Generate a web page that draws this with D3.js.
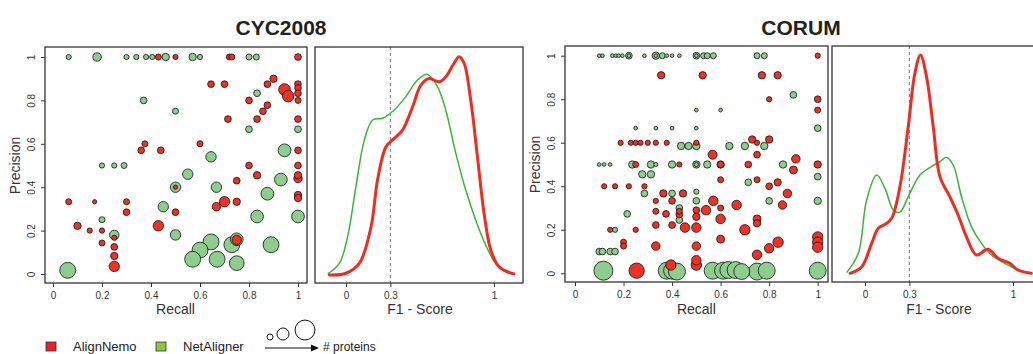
<!DOCTYPE html>
<html>
<head>
<meta charset="utf-8">
<script src="https://cdnjs.cloudflare.com/ajax/libs/d3/7.8.5/d3.min.js"></script>
<style>
  body { margin: 0; background: #fff; }
  svg { font-family: "Liberation Sans", Arial, Helvetica, sans-serif; }
  .tick text { font-size: 10px; fill: #333; }
  .tick line { stroke: #333; }
</style>
</head>
<body>
<script>
// ---- data: [recall, precision, # proteins] ----
var cycNemo = [
  [0.43,1,4],[0.50,1,3],[0.72,1,4],[0.73,1,4],[1,1,5],
  [0.645,0.875,5],[0.70,0.875,5],[0.875,0.875,5],[0.9,0.9,6],[1,0.875,5],
  [0.945,0.85,15],[1,0.857,5],[0.96,0.82,15],[1,0.833,5],
  [0.8,0.8,5],[1,0.8,4],[0.875,0.778,5],[0.857,0.75,5],
  [0.714,0.714,5],[0.833,0.714,5],[1,0.714,5],
  [0.375,0.6,4],[0.6,0.6,4],[0.36,0.57,5],[0.44,0.57,5],[1,0.57,5],
  [0.8,0.5,5],[1,0.5,5],[0.833,0.455,6],[1,0.455,6],[1,0.44,8],
  [0.75,0.43,5],[0.5,0.4,2],[1,0.364,6],[1,0.35,6],
  [0.064,0.333,4],[0.17,0.333,2],[0.3,0.333,4],[0.70,0.333,12],[0.75,0.333,6],
  [0.667,0.31,8],[0.3,0.285,5],[0.5,0.285,5],
  [0.1,0.222,6],[0.43,0.222,12],[0.15,0.2,3],[0.2,0.2,3],
  [0.25,0.167,3],[0.2,0.143,4],[0.75,0.157,10],[0.25,0.125,5],[0.25,0.083,6],[0.25,0.035,12]
];
var cycNet = [
  [0.064,1,3],[0.18,1,8],[0.30,1,3],[0.34,1,3],[0.38,1,3],[0.405,1,3],[0.46,1,6],[0.57,1,6],[0.6,1,3],[0.8,1,4],[0.83,1,4],
  [0.833,0.833,5],[0.37,0.8,5],[0.5,0.75,4],[0.8,0.667,5],[1,0.667,5],
  [0.945,0.57,18],[0.645,0.54,12],[0.2,0.5,3],[0.25,0.5,3],[0.29,0.5,4],
  [0.55,0.46,12],[0.93,0.435,18],[0.5,0.4,12],[0.667,0.4,12],[0.875,0.37,18],
  [0.45,0.31,12],[0.833,0.265,18],[1,0.265,18],[0.2,0.25,4],[0.25,0.18,10],[0.5,0.18,12],
  [0.75,0.16,18],[0.645,0.148,28],[0.73,0.135,28],[0.89,0.135,28],[0.6,0.11,28],
  [0.57,0.068,28],[0.67,0.068,28],[0.75,0.05,24],[0.06,0.017,28]
];
var corumNemo = [
  [1,1,3],
  [0.355,0.91,6],[0.526,0.91,6],[0.77,0.91,6],[0.835,0.91,6],
  [0.8,0.8,3],[1,0.8,5],[1,0.75,4],
  [0.188,0.6,3],[0.23,0.6,3],[0.25,0.6,3],[0.27,0.6,3],[0.3,0.6,3],[0.333,0.6,3],[0.378,0.6,3],[0.5,0.6,3],
  [0.75,0.6,3],[0.8,0.615,6],[0.73,0.615,6],
  [0.567,0.545,9],[0.75,0.545,5],
  [0.25,0.5,4],[0.43,0.5,3],[0.6,0.5,5],[0.714,0.5,5],[0.91,0.526,8],[0.9,0.475,7],[1,0.5,6],
  [0.6,0.43,4],[0.75,0.43,4],[0.835,0.418,6],
  [0.12,0.4,3],[0.165,0.4,3],[0.222,0.4,3],[0.286,0.4,3],[0.8,0.4,5],
  [0.364,0.367,6],[0.445,0.367,6],[0.875,0.367,8],
  [0.333,0.333,3],[0.4,0.333,5],[0.57,0.333,10],
  [0.666,0.314,10],[0.855,0.314,8],
  [0.6,0.3,4],[0.54,0.29,10],[0.5,0.29,5],[0.333,0.285,4],[0.43,0.285,4],
  [0.375,0.273,5],[0.43,0.27,5],[0.5,0.26,6],
  [0.6,0.25,10],[0.75,0.25,7],[0.4,0.222,5],[0.333,0.222,5],[0.75,0.23,6],
  [0.453,0.21,10],[0.5,0.21,10],
  [0.145,0.2,3],[0.25,0.2,3],[0.70,0.2,12],
  [0.6,0.157,7],[0.2,0.143,4],[0.837,0.143,12],
  [0.2,0.125,4],[0.333,0.125,8],[0.5,0.125,8],[0.8,0.115,10],[1,0.167,12],[1,0.143,12],[1,0.12,12],
  [0.75,0.085,10],[0.5,0.06,10],[0.395,0.038,12],[0.5,0.038,12],[0.254,0.012,26]
];
var corumNet = [
  [0.1,1,1.5],[0.113,1,1.5],[0.154,1,1.5],[0.168,1,1.5],[0.18,1,1.5],[0.195,1,1.5],[0.222,1,5],[0.222,1,1.5],
  [0.286,1,1.5],[0.333,1,6],[0.333,1,1.5],[0.36,1,4],[0.378,1,1.5],[0.4,1,1.5],[0.43,1,1.5],[0.5,1,5],[0.5,1,1.5],
  [0.53,1,4],[0.545,1,4],[0.57,1,4],[0.75,1,4],[0.78,1,4],
  [0.9,0.82,5],[0.5,0.75,1.5],[0.6,0.75,1.5],
  [0.25,0.667,1.5],[0.333,0.667,1.5],[0.4,0.667,1.5],[0.5,0.667,1.5],[1,0.667,5],
  [0.437,0.585,6],[0.468,0.585,6],[0.5,0.585,6],[0.636,0.585,6],[0.7,0.585,6],[0.78,0.585,6],
  [0.1,0.5,1.5],[0.12,0.5,1.5],[0.145,0.5,1.5],[0.236,0.5,6],[0.313,0.5,6],[0.333,0.5,2],[0.4,0.5,6],
  [0.5,0.5,6],[0.5,0.5,2],[0.545,0.5,6],[0.6,0.5,6],[0.857,0.5,6],
  [0.277,0.455,6],[0.313,0.455,6],[1,0.444,5],[0.714,0.418,5],
  [0.286,0.367,5],[0.4,0.367,5],[0.5,0.375,3],
  [0.5,0.333,5],[0.8,0.333,5],[1,0.333,6],
  [0.43,0.3,5],[0.215,0.273,5],[0.43,0.245,5],[0.165,0.2,3],
  [0.1,0.1,5],[0.113,0.1,5],[0.145,0.1,5],[0.165,0.1,5],
  [0.117,0.012,40],[0.378,0.012,32],[0.4,0.012,32],[0.42,0.008,32],[0.567,0.012,32],[0.61,0.012,32],
  [0.632,0.015,32],[0.662,0.015,32],[0.687,0.008,28],[0.75,0.008,32],[0.79,0.012,32],[1,0.012,32]
];

// ---- F1 density curves: [F1, relative density] ----
var cycDensNemo = [[-0.112,0],[0,0.008],[0.09,0.053],[0.169,0.22],[0.213,0.435],[0.27,0.588],[0.326,0.626],
  [0.382,0.664],[0.45,0.771],[0.506,0.87],[0.562,0.9],[0.63,0.885],[0.674,0.908],[0.73,0.97],[0.764,1],
  [0.798,0.97],[0.843,0.8],[0.888,0.542],[0.933,0.282],[0.978,0.115],[1.034,0.038],[1.135,0.005]];
var cycDensNet = [[-0.124,0.005],[-0.045,0.053],[0.011,0.176],[0.067,0.405],[0.124,0.618],[0.18,0.71],
  [0.247,0.718],[0.326,0.756],[0.404,0.817],[0.483,0.893],[0.55,0.919],[0.618,0.863],[0.674,0.756],
  [0.742,0.557],[0.809,0.389],[0.876,0.252],[0.944,0.137],[1.011,0.053],[1.079,0.015],[1.135,0.003]];
var corumDensNemo = [[-0.101,0],[-0.022,0.03],[0.045,0.137],[0.09,0.206],[0.135,0.224],[0.18,0.252],
  [0.236,0.397],[0.292,0.672],[0.337,0.916],[0.375,1],[0.416,0.9],[0.461,0.672],[0.506,0.443],[0.573,0.351],
  [0.629,0.267],[0.685,0.168],[0.753,0.084],[0.831,0.11],[0.899,0.069],[0.978,0.046],[1.034,0.015],[1.124,0]];
var corumDensNet = [[-0.124,0.003],[-0.045,0.092],[0.011,0.336],[0.079,0.45],[0.135,0.389],[0.191,0.29],
  [0.236,0.28],[0.292,0.351],[0.371,0.45],[0.449,0.489],[0.506,0.511],[0.551,0.531],[0.596,0.496],
  [0.652,0.351],[0.719,0.214],[0.787,0.137],[0.854,0.084],[0.944,0.046],[1.034,0.015],[1.112,0.003]];

var titles = ["CYC2008", "CORUM"];
var scatterTicks = [0, 0.2, 0.4, 0.6, 0.8, 1];
var f1Ticks = [0, 0.3, 1];
var f1Cut = 0.3;
var legendNames = ["AlignNemo", "NetAligner"];
var legendSizes = [4, 16, 44];

var width = 1033, height = 354;
var red = "#ee3124", green = "#8dcd8d";
var redLine = "#ee2c22", greenLine = "#3cb23c";

var svg = d3.select("body").append("svg")
    .attr("width", width)
    .attr("height", height);

var rScale = d3.scaleSqrt().domain([0, 40]).range([0, 9.5]);

var panels = [
  { title: titles[0], tx: 281,
    sc: {x0: 45, x1: 307, y0: 47, y1: 283, xr: [53, 298], yr: [274, 57]},
    de: {x0: 315, x1: 523, y0: 47, y1: 283, xr: [346, 494], yr: [275, 56.7]},
    nemo: cycNemo, net: cycNet, dNemo: cycDensNemo, dNet: cycDensNet },
  { title: titles[1], tx: 801,
    sc: {x0: 565, x1: 828, y0: 46, y1: 282, xr: [575, 817.7], yr: [273.3, 55.7]},
    de: {x0: 832, x1: 1036, y0: 46, y1: 282, xr: [865, 1013], yr: [273.3, 55]},
    nemo: corumNemo, net: corumNet, dNemo: corumDensNemo, dNet: corumDensNet }
];

function box(b) {
  svg.append("rect")
    .attr("x", b.x0).attr("y", b.y0)
    .attr("width", b.x1 - b.x0).attr("height", b.y1 - b.y0)
    .attr("fill", "none").attr("stroke", "#333").attr("stroke-width", 1.3);
}

function bottomAxis(scale, ticks, y, fmt) {
  var g = svg.append("g")
    .attr("transform", "translate(0," + y + ")")
    .call(d3.axisBottom(scale).tickValues(ticks).tickSize(4).tickPadding(5).tickFormat(fmt));
  g.select(".domain").remove();
  g.attr("font-family", null).attr("font-size", null);
}

panels.forEach(function(p) {
  // title
  svg.append("text")
    .attr("x", p.tx).attr("y", 35)
    .attr("text-anchor", "middle")
    .attr("font-weight", "bold").attr("font-size", 21).attr("fill", "#222")
    .text(p.title);

  // scatter
  var x = d3.scaleLinear().domain([0, 1]).range(p.sc.xr);
  var y = d3.scaleLinear().domain([0, 1]).range(p.sc.yr);

  var pts = p.net.slice().sort(function(a, b) { return b[2] - a[2]; }).map(function(d) { return {d: d, c: green}; })
    .concat(p.nemo.slice().sort(function(a, b) { return b[2] - a[2]; }).map(function(d) { return {d: d, c: red}; }));

  svg.append("g").selectAll("circle")
    .data(pts)
    .enter()
    .append("circle")
    .attr("cx", function(o) { return x(o.d[0]); })
    .attr("cy", function(o) { return y(o.d[1]); })
    .attr("r", function(o) { return rScale(o.d[2]); })
    .attr("fill", function(o) { return o.c; })
    .attr("stroke", "#111")
    .attr("stroke-width", 0.8);

  box(p.sc);
  bottomAxis(x, scatterTicks, p.sc.y1, d3.format("~g"));

  var ya = svg.append("g")
    .attr("transform", "translate(" + p.sc.x0 + ",0)")
    .call(d3.axisLeft(y).tickValues(scatterTicks).tickSize(4).tickFormat(d3.format("~g")));
  ya.select(".domain").remove();
  ya.attr("font-family", null).attr("font-size", null);
  ya.selectAll("text")
    .attr("transform", "rotate(-90)")
    .attr("x", 0).attr("y", -10).attr("dy", 0)
    .attr("text-anchor", "middle");

  svg.append("text")
    .attr("x", (p.sc.xr[0] + p.sc.xr[1]) / 2).attr("y", 314)
    .attr("text-anchor", "middle").attr("font-size", 14).attr("fill", "#333")
    .text("Recall");
  svg.append("text")
    .attr("transform", "translate(" + (p.sc.x0 - 25) + "," + ((p.sc.yr[0] + p.sc.yr[1]) / 2) + ") rotate(-90)")
    .attr("text-anchor", "middle").attr("font-size", 14).attr("fill", "#333")
    .text("Precision");

  // density
  var dx = d3.scaleLinear().domain([0, 1]).range(p.de.xr);
  var dy = d3.scaleLinear().domain([0, 1]).range(p.de.yr);
  var line = d3.line()
    .x(function(d) { return dx(d[0]); })
    .y(function(d) { return dy(d[1]); })
    .curve(d3.curveCatmullRom.alpha(0.5));

  svg.append("line")
    .attr("x1", dx(f1Cut)).attr("x2", dx(f1Cut))
    .attr("y1", p.de.y0).attr("y2", p.de.y1)
    .attr("stroke", "#888").attr("stroke-width", 1.2).attr("stroke-dasharray", "3,3");

  svg.append("path").datum(p.dNet)
    .attr("d", line).attr("fill", "none")
    .attr("stroke", greenLine).attr("stroke-width", 1.5);
  svg.append("path").datum(p.dNemo)
    .attr("d", line).attr("fill", "none")
    .attr("stroke", redLine).attr("stroke-width", 3).attr("stroke-linecap", "round");

  box(p.de);
  bottomAxis(dx, f1Ticks, p.de.y1, d3.format("~g"));

  svg.append("text")
    .attr("x", (p.de.xr[0] + p.de.xr[1]) / 2).attr("y", 314)
    .attr("text-anchor", "middle").attr("font-size", 14).attr("fill", "#333")
    .text("F1 - Score");
});

// legend
var legend = svg.append("g");
[[46, "#e8202a", legendNames[0], 73], [156, "#8dc63f", legendNames[1], 183]].forEach(function(l) {
  legend.append("rect")
    .attr("x", l[0]).attr("y", 342).attr("width", 10).attr("height", 9)
    .attr("fill", l[1]).attr("stroke", "#333").attr("stroke-width", 0.8);
  legend.append("text")
    .attr("x", l[3]).attr("y", 351)
    .attr("font-size", 13).attr("fill", "#222")
    .text(l[2]);
});

var lx = [270, 283, 305];
legend.selectAll("circle.size")
  .data(legendSizes)
  .enter()
  .append("circle")
  .attr("class", "size")
  .attr("cx", function(d, i) { return lx[i]; })
  .attr("cy", function(d) { return 340 - rScale(d); })
  .attr("r", function(d) { return rScale(d); })
  .attr("fill", "none").attr("stroke", "#111").attr("stroke-width", 1);

legend.append("line")
  .attr("x1", 265).attr("x2", 312).attr("y1", 348).attr("y2", 348)
  .attr("stroke", "#111").attr("stroke-width", 1.2);
legend.append("path")
  .attr("d", "M311,344.5 L319,348 L311,351.5 Z")
  .attr("fill", "#111");
legend.append("text")
  .attr("x", 323).attr("y", 351)
  .attr("font-size", 12).attr("fill", "#222")
  .text("# proteins");
</script>
</body>
</html>
